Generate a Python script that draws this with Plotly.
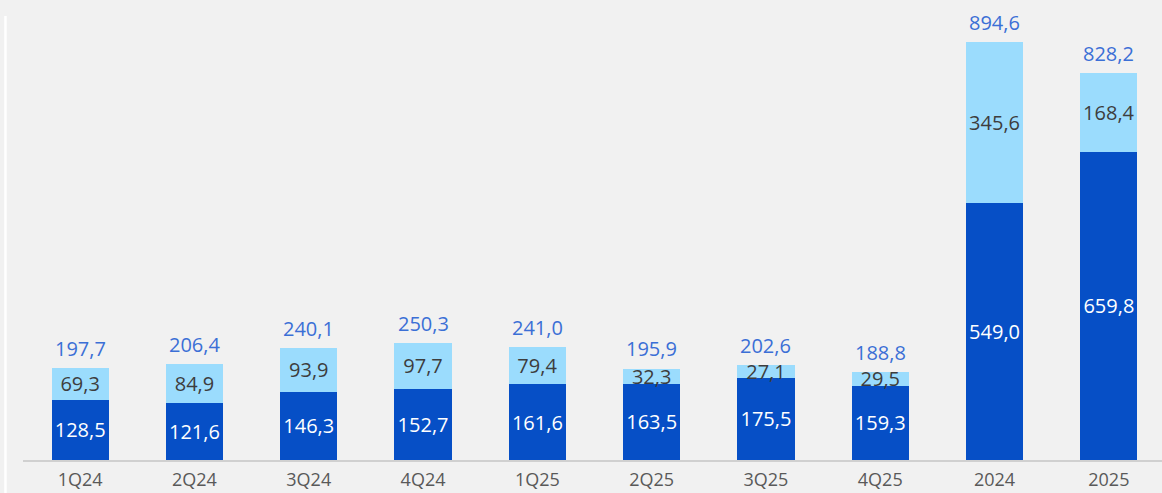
import plotly.graph_objects as go

categories = ["1Q24", "2Q24", "3Q24", "4Q24", "1Q25", "2Q25", "3Q25", "4Q25", "2024", "2025"]
base_values = [128.5, 121.6, 146.3, 152.7, 161.6, 163.5, 175.5, 159.3, 549.0, 659.8]
top_values = [69.3, 84.9, 93.9, 97.7, 79.4, 32.3, 27.1, 29.5, 345.6, 168.4]
totals = [197.7, 206.4, 240.1, 250.3, 241.0, 195.9, 202.6, 188.8, 894.6, 828.2]


def fmt(v):
    return f"{v:.1f}".replace(".", ",")


DARK = "#064fc6"
LIGHT = "#9bdcfd"
FONT = "Open Sans"

fig = go.Figure()
fig.add_trace(go.Bar(
    x=categories, y=base_values, marker=dict(color=DARK, line=dict(width=0)),
    text=[fmt(v) for v in base_values], textposition="inside", textangle=0,
    insidetextanchor="middle", constraintext="none",
    textfont=dict(color="white", size=20, family=FONT),
    width=0.5, hoverinfo="skip",
))
fig.add_trace(go.Bar(
    x=categories, y=top_values, marker=dict(color=LIGHT, line=dict(width=0)),
    text=[fmt(v) for v in top_values], textposition="inside", textangle=0,
    insidetextanchor="middle", constraintext="none",
    textfont=dict(color="#3d3d3d", size=20, family=FONT),
    width=0.5, hoverinfo="skip",
))

# Totals written above each stack (category index as x position)
annotations = [
    dict(x=i, y=t, text=fmt(t), showarrow=False, xref="x", yref="y",
         yanchor="bottom", yshift=4,
         font=dict(color="#3b6fd6", size=20, family=FONT))
    for i, t in enumerate(totals)
]

fig.update_layout(
    width=1162, height=493,
    barmode="stack",
    showlegend=False,
    paper_bgcolor="#f1f1f1",
    plot_bgcolor="#f1f1f1",
    margin=dict(l=23, r=0, t=0, b=33),
    xaxis=dict(
        type="category", automargin=False,
        range=[-0.5, 9.465], showgrid=False, zeroline=False,
        showline=True, linecolor="#d0d0d0", linewidth=1.5,
        tickfont=dict(color="#595959", size=18, family=FONT),
        ticks="", ticklabelstandoff=3,
    ),
    yaxis=dict(
        range=[0, 984.4], visible=False, showgrid=False, zeroline=False,
    ),
    annotations=annotations,
    shapes=[dict(
        type="line", xref="paper", yref="paper",
        x0=-0.0154, x1=-0.0154, y0=0.965, y1=-0.08,
        line=dict(color="white", width=2.5),
    )],
)

fig.write_html("out.html")
